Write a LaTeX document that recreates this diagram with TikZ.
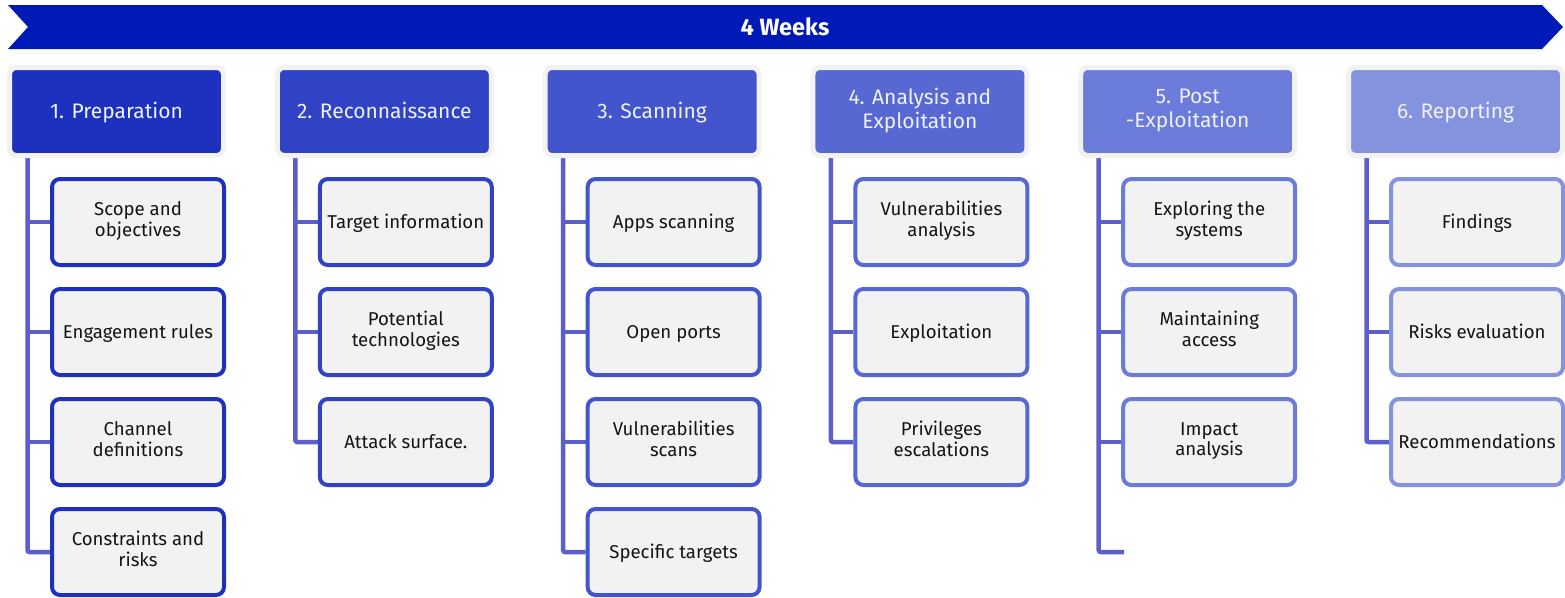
\documentclass[tikz,border=0pt]{standalone}
\usepackage{fontspec}
\setmainfont{Fira Sans}
\usetikzlibrary{backgrounds}

\definecolor{bannerblue}{HTML}{001AB8}
\definecolor{ringgray}{HTML}{F2F2F2}
\definecolor{boxgray}{HTML}{F2F2F2}
\definecolor{linkblue}{HTML}{5B5FC7}
\definecolor{phaseA}{HTML}{1C32BE}
\definecolor{phaseB}{HTML}{2F43C4}
\definecolor{phaseC}{HTML}{4255CC}
\definecolor{phaseD}{HTML}{5868D3}
\definecolor{phaseE}{HTML}{6B7BDA}
\definecolor{phaseF}{HTML}{8593DE}
\definecolor{phasetext}{HTML}{EEF0FA}

\tikzset{
  % fixed line height and depth so every label sits on the same baseline
  struts/.style={
    execute at begin node={\rule{0pt}{\dimexpr0.7\baselineskip+4pt\relax}},
    execute at end node=\strut},
  phase/.style={draw=ringgray, fill=#1, line width=5pt, rounded corners=7pt,
    minimum width=214pt, minimum height=88pt, inner sep=0pt, align=center,
    text=phasetext, font=\fontsize{21}{24}\selectfont, struts},
  task/.style={draw=#1, fill=boxgray, line width=4pt, rounded corners=8pt,
    minimum width=172pt, minimum height=86pt, inner sep=0pt, align=center,
    text=black!92, font=\fontsize{18.6}{20.5}\selectfont, struts},
  link/.style={draw=linkblue, line width=4.5pt, rounded corners=2pt},
}

\begin{document}
\begin{tikzpicture}[x=1pt,y=-1pt]
\useasboundingbox (0,0) rectangle (1565,597);

% timeline banner
\fill[bannerblue] (8,5) -- (1542,5) -- (1563,27) -- (1542,49) -- (8,49) -- (28,27) -- cycle;
\node[text=white, font=\fontsize{23.5}{26}\selectfont\bfseries] (banner) at (785,27) {4 Weeks};

% phase headers
\node[phase=phaseA] (h1) at (116.5,111.5) {1. Preparation};
\node[phase=phaseB] (h2) at (384.3,111.5) {2. Reconnaissance};
\node[phase=phaseC] (h3) at (652.1,111.5) {3. Scanning};
\node[phase=phaseD] (h4) at (919.9,111.5) {4. Analysis and\\Exploitation};
\node[phase=phaseE] (h5) at (1187.7,111.5) {5. Post\\-Exploitation};
\node[phase=phaseF] (h6) at (1455.5,111.5) {6. Reporting};

% tasks of each phase
\node[task=phaseA] (c1-1) at (138,222) {Scope and\\objectives};
\node[task=phaseA] (c1-2) at (138,332) {Engagement rules};
\node[task=phaseA] (c1-3) at (138,442) {Channel\\definitions};
\node[task=phaseA] (c1-4) at (138,552) {Constraints and\\risks};

\node[task=phaseB] (c2-1) at (405.8,222) {Target information};
\node[task=phaseB] (c2-2) at (405.8,332) {Potential\\technologies};
\node[task=phaseB] (c2-3) at (405.8,442) {Attack surface.};

\node[task=phaseC] (c3-1) at (673.6,222) {Apps scanning};
\node[task=phaseC] (c3-2) at (673.6,332) {Open ports};
\node[task=phaseC] (c3-3) at (673.6,442) {Vulnerabilities\\scans};
\node[task=phaseC] (c3-4) at (673.6,552) {Specific targets};

\node[task=phaseD] (c4-1) at (941.4,222) {Vulnerabilities\\analysis};
\node[task=phaseD] (c4-2) at (941.4,332) {Exploitation};
\node[task=phaseD] (c4-3) at (941.4,442) {Privileges\\escalations};

\node[task=phaseE] (c5-1) at (1209.2,222) {Exploring the\\systems};
\node[task=phaseE] (c5-2) at (1209.2,332) {Maintaining\\access};
\node[task=phaseE] (c5-3) at (1209.2,442) {Impact\\analysis};
\coordinate (e5) at (1124,552);

\node[task=phaseF] (c6-1) at (1477,222) {Findings};
\node[task=phaseF] (c6-2) at (1477,332) {Risks evaluation};
\node[task=phaseF] (c6-3) at (1477,442) {Recommendations};

% trunk lines and branches
\begin{scope}[on background layer]
  \coordinate (t1) at ([xshift=20.5pt]h1.south west);
  \coordinate (t2) at ([xshift=20.5pt]h2.south west);
  \coordinate (t3) at ([xshift=20.5pt]h3.south west);
  \coordinate (t4) at ([xshift=20.5pt]h4.south west);
  \coordinate (t5) at ([xshift=20.5pt]h5.south west);
  \coordinate (t6) at ([xshift=20.5pt]h6.south west);

  \draw[link] (t1) |- (c1-4.west);
  \foreach \k in {1,2,3} \draw[link] (c1-\k.west) -- (c1-\k.west -| t1);

  \draw[link] (t2) |- (c2-3.west);
  \foreach \k in {1,2} \draw[link] (c2-\k.west) -- (c2-\k.west -| t2);

  \draw[link] (t3) |- (c3-4.west);
  \foreach \k in {1,2,3} \draw[link] (c3-\k.west) -- (c3-\k.west -| t3);

  \draw[link] (t4) |- (c4-3.west);
  \foreach \k in {1,2} \draw[link] (c4-\k.west) -- (c4-\k.west -| t4);

  \draw[link] (t5) |- (e5);
  \foreach \k in {1,2,3} \draw[link] (c5-\k.west) -- (c5-\k.west -| t5);

  \draw[link] (t6) |- (c6-3.west);
  \foreach \k in {1,2} \draw[link] (c6-\k.west) -- (c6-\k.west -| t6);
\end{scope}
\end{tikzpicture}
\end{document}
